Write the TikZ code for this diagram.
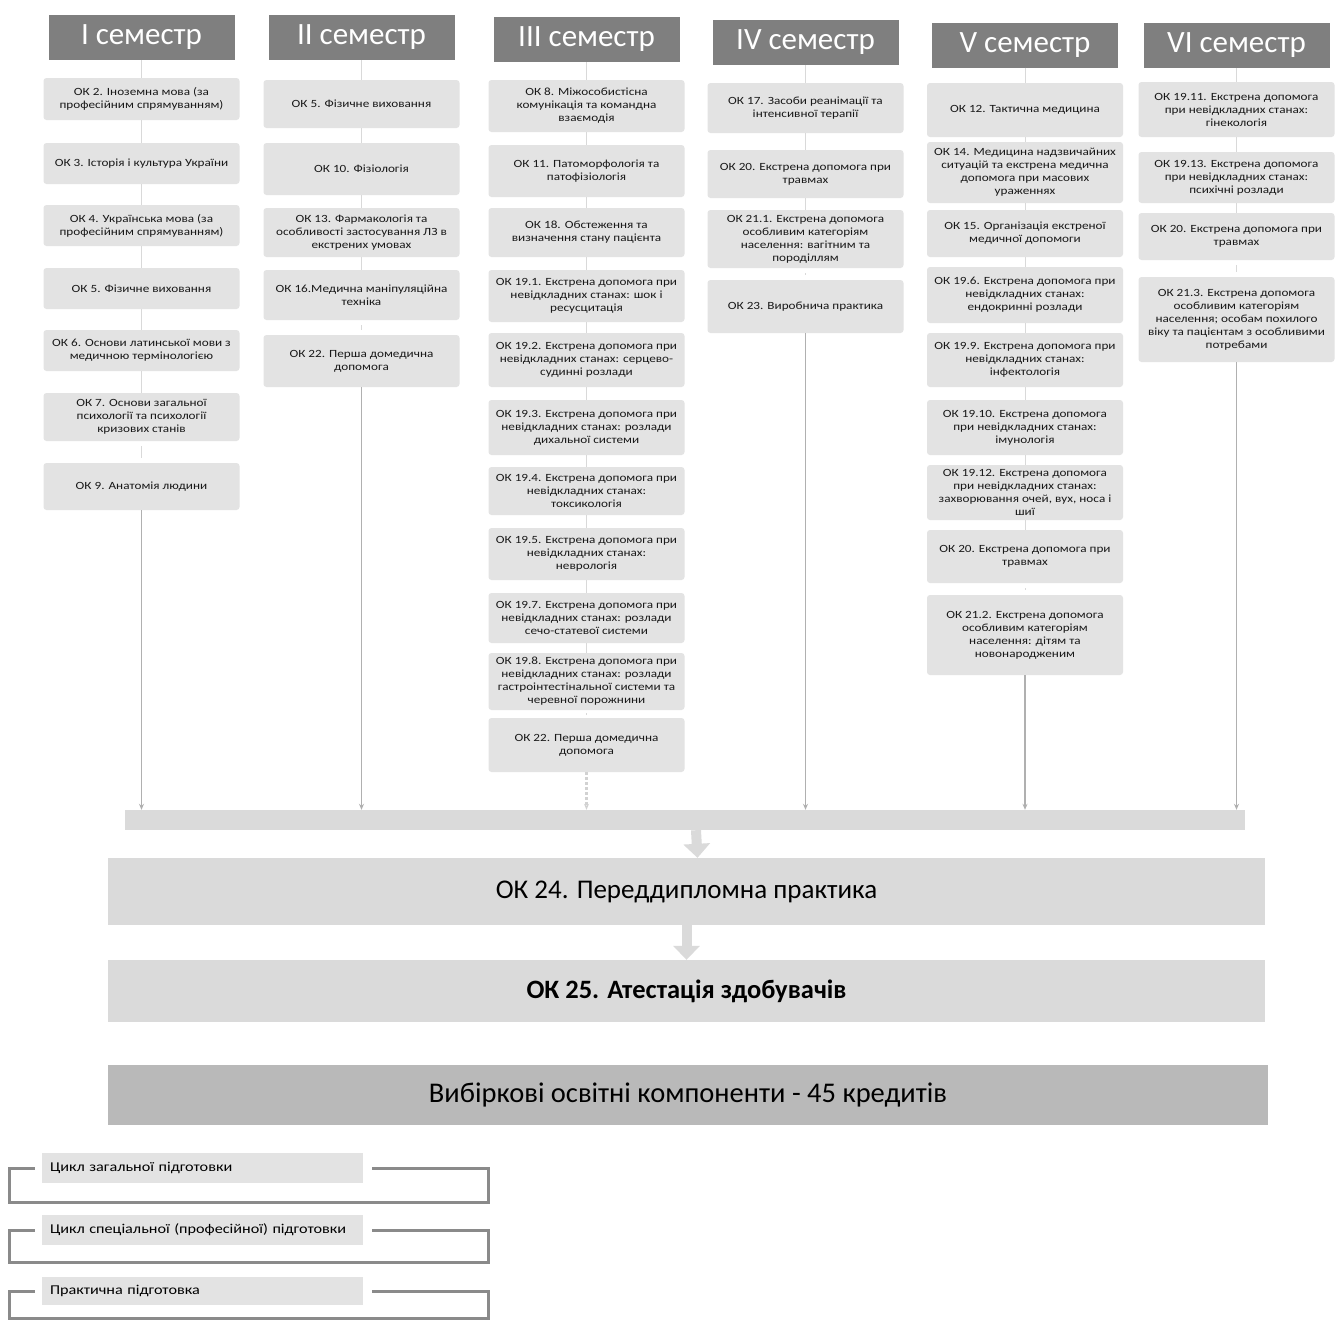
\documentclass[tikz,border=0pt]{standalone}
\usepackage{fontspec}
\setmainfont{Carlito}
\newfontfamily\boxfont[FakeStretch=1.2]{Carlito}
\usetikzlibrary{arrows.meta}

\definecolor{semgray}{HTML}{7F7F7F}
\definecolor{okgray}{HTML}{E3E3E3}
\definecolor{bargray}{HTML}{DADADA}
\definecolor{electgray}{HTML}{B9B9B9}
\definecolor{linegray}{HTML}{B0B0B0}
\definecolor{brgray}{HTML}{8A8A8A}

\begin{document}
\begin{tikzpicture}[
        x=1pt, y=-1pt,
        sem/.style={fill=semgray, text=white, minimum width=186pt, minimum height=45pt, inner sep=0pt, font=\fontsize{31}{31}\selectfont},
        ok/.style={fill=okgray, rounded corners=3pt, minimum width=196pt, inner sep=1pt, align=center, text=black!90, font=\boxfont\fontsize{11}{13}\selectfont},
        tick/.style={draw=gray!30, line width=0.6pt, shorten <=5pt, shorten >=5pt},
        feed/.style={draw=linegray, line width=1.2pt, -{Stealth[length=6pt, width=5pt]}},
        wide/.style={fill=bargray, minimum width=1157pt, inner sep=0pt, font=\fontsize{27}{32}\selectfont},
        bigarrow/.style={draw=bargray, line width=10pt, -{Triangle[length=14pt, width=26pt]}},
        legend/.style={fill=okgray, minimum width=321pt, minimum height=30pt, text width=305pt, align=left, font=\boxfont\fontsize{13.5}{15}\selectfont},
        bracket/.style={draw=brgray, line width=3pt}
    ]

        \fill[white] (0,0) rectangle (1339,1320);
        \useasboundingbox (0,0) rectangle (1339,1320);

        % Semester headers
        \node[sem] (h1) at (141.5,37.5) {I семестр};
        \node[sem] (h2) at (361.5,37.5) {II семестр};
        \node[sem] (h3) at (586.5,39.5) {III семестр};
        \node[sem] (h4) at (805.5,42.5) {IV семестр};
        \node[sem] (h5) at (1025,45) {V семестр};
        \node[sem] (h6) at (1236.5,45.5) {VI семестр};

        % I semester
        \node[ok, minimum height=42pt] (a1) at (141.5,99) {ОК 2. Іноземна мова (за\\професійним спрямуванням)};
        \node[ok, minimum height=41pt] (a2) at (141.5,163.5) {ОК 3. Історія і культура України};
        \node[ok, minimum height=41pt] (a3) at (141.5,225.5) {ОК 4. Українська мова (за\\професійним спрямуванням)};
        \node[ok, minimum height=41pt] (a4) at (141.5,288.5) {ОК 5. Фізичне виховання};
        \node[ok, minimum height=41pt] (a5) at (141.5,350.5) {ОК 6. Основи латинської мови з\\медичною термінологією};
        \node[ok, minimum height=48pt] (a6) at (141.5,417) {ОК 7. Основи загальної\\психології та психології\\кризових станів};
        \node[ok, minimum height=47pt] (a7) at (141.5,486.5) {ОК 9. Анатомія людини};

        % II semester
        \node[ok, minimum height=48pt] (b1) at (361.5,104) {ОК 5. Фізичне виховання};
        \node[ok, minimum height=52pt] (b2) at (361.5,169) {ОК 10. Фізіологія};
        \node[ok, minimum height=49pt] (b3) at (361.5,232.5) {ОК 13. Фармакологія та\\особливості застосування ЛЗ в\\екстрених умовах};
        \node[ok, minimum height=50pt] (b4) at (361.5,295) {ОК 16.Медична маніпуляційна\\техніка};
        \node[ok, minimum height=52pt] (b5) at (361.5,361) {ОК 22. Перша домедична\\допомога};

        % III semester
        \node[ok, minimum height=52pt] (c1) at (586.5,106) {ОК 8. Міжособистісна\\комунікація та командна\\взаємодія};
        \node[ok, minimum height=52pt] (c2) at (586.5,171) {ОК 11. Патоморфологія та\\патофізіологія};
        \node[ok, minimum height=49pt] (c3) at (586.5,232.5) {ОК 18. Обстеження та\\визначення стану пацієнта};
        \node[ok, minimum height=52pt] (c4) at (586.5,296) {ОК 19.1. Екстрена допомога при\\невідкладних станах: шок і\\ресусцитація};
        \node[ok, minimum height=54pt] (c5) at (586.5,360) {ОК 19.2. Екстрена допомога при\\невідкладних станах: серцево-\\судинні розлади};
        \node[ok, minimum height=55pt] (c6) at (586.5,427.5) {ОК 19.3. Екстрена допомога при\\невідкладних станах: розлади\\дихальної системи};
        \node[ok, minimum height=48pt] (c7) at (586.5,491) {ОК 19.4. Екстрена допомога при\\невідкладних станах:\\токсикологія};
        \node[ok, minimum height=52pt] (c8) at (586.5,554) {ОК 19.5. Екстрена допомога при\\невідкладних станах:\\неврологія};
        \node[ok, minimum height=50pt] (c9) at (586.5,618) {ОК 19.7. Екстрена допомога при\\невідкладних станах: розлади\\сечо-статевої системи};
        \node[ok, minimum height=57pt] (c10) at (586.5,681.5) {ОК 19.8. Екстрена допомога при\\невідкладних станах: розлади\\гастроінтестінальної системи та\\черевної порожнини};
        \node[ok, minimum height=54pt] (c11) at (586.5,745) {ОК 22. Перша домедична\\допомога};

        % IV semester
        \node[ok, minimum height=50pt] (d1) at (805.5,108) {ОК 17. Засоби реанімації та\\інтенсивної терапії};
        \node[ok, minimum height=48pt] (d2) at (805.5,174) {ОК 20. Екстрена допомога при\\травмах};
        \node[ok, minimum height=58pt] (d3) at (805.5,239) {ОК 21.1. Екстрена допомога\\особливим категоріям\\населення: вагітним та\\породіллям};
        \node[ok, minimum height=53pt] (d4) at (805.5,306.5) {ОК 23. Виробнича практика};

        % V semester
        \node[ok, minimum height=54pt] (e1) at (1025,110) {ОК 12. Тактична медицина};
        \node[ok, minimum height=61pt] (e2) at (1025,172.5) {ОК 14. Медицина надзвичайних\\ситуацій та екстрена медична\\допомога при масових\\ураженнях};
        \node[ok, minimum height=47pt] (e3) at (1025,233.5) {ОК 15. Організація екстреної\\медичної допомоги};
        \node[ok, minimum height=56pt] (e4) at (1025,295) {ОК 19.6. Екстрена допомога при\\невідкладних станах:\\ендокринні розлади};
        \node[ok, minimum height=54pt] (e5) at (1025,360) {ОК 19.9. Екстрена допомога при\\невідкладних станах:\\інфектологія};
        \node[ok, minimum height=55pt] (e6) at (1025,427.5) {ОК 19.10. Екстрена допомога\\при невідкладних станах:\\імунологія};
        \node[ok, minimum height=55pt] (e7) at (1025,492.5) {ОК 19.12. Екстрена допомога\\при невідкладних станах:\\захворювання очей, вух, носа і\\шиї};
        \node[ok, minimum height=53pt] (e8) at (1025,556.5) {ОК 20. Екстрена допомога при\\травмах};
        \node[ok, minimum height=80pt] (e9) at (1025,635) {ОК 21.2. Екстрена допомога\\особливим категоріям\\населення: дітям та\\новонародженим};

        % VI semester
        \node[ok, minimum height=55pt] (f1) at (1236.5,109.5) {ОК 19.11. Екстрена допомога\\при невідкладних станах:\\гінекологія};
        \node[ok, minimum height=51pt] (f2) at (1236.5,177.5) {ОК 19.13. Екстрена допомога\\при невідкладних станах:\\психічні розлади};
        \node[ok, minimum height=47pt] (f3) at (1236.5,236.5) {ОК 20. Екстрена допомога при\\травмах};
        \node[ok, minimum height=85pt] (f4) at (1236.5,319.5) {ОК 21.3. Екстрена допомога\\особливим категоріям\\населення; особам похилого\\віку та пацієнтам з особливими\\потребами};

        % Short links inside each column
        \draw[tick] (h1) -- (a1) (a1) -- (a2) (a2) -- (a3) (a3) -- (a4) (a4) -- (a5) (a5) -- (a6) (a6) -- (a7);
        \draw[tick] (h2) -- (b1) (b1) -- (b2) (b2) -- (b3) (b3) -- (b4) (b4) -- (b5);
        \draw[tick] (h3) -- (c1) (c1) -- (c2) (c2) -- (c3) (c3) -- (c4) (c4) -- (c5) (c5) -- (c6)
            (c6) -- (c7) (c7) -- (c8) (c8) -- (c9) (c9) -- (c10) (c10) -- (c11);
        \draw[tick] (h4) -- (d1) (d1) -- (d2) (d2) -- (d3) (d3) -- (d4);
        \draw[tick] (h5) -- (e1) (e1) -- (e2) (e2) -- (e3) (e3) -- (e4) (e4) -- (e5) (e5) -- (e6)
            (e6) -- (e7) (e7) -- (e8) (e8) -- (e9);
        \draw[tick] (h6) -- (f1) (f1) -- (f2) (f2) -- (f3) (f3) -- (f4);

        % Collecting bar and the final components
        \node[fill=bargray, minimum width=1120pt, minimum height=20pt, inner sep=0pt] (bar) at (685,820) {};
        \node[wide, minimum height=67pt] (p24) at (686.5,891.5) {ОК 24. Переддипломна практика};
        \node[wide, minimum height=62pt, font=\bfseries\fontsize{26.5}{32}\selectfont] (p25) at (686.5,991) {ОК 25. Атестація здобувачів};
        \node[wide, fill=electgray, minimum width=1160pt, minimum height=60pt, font=\fontsize{28.5}{32}\selectfont] (elect) at (688,1095) {Вибіркові освітні компоненти - 45 кредитів};

        % Columns feed into the bar
        \draw[feed] (a7) -- (a7 |- bar.north);
        \draw[feed] (b5) -- (b5 |- bar.north);
        \draw[feed, draw=gray!35, line width=3pt, dotted] (c11) -- (c11 |- bar.north);
        \draw[feed] (d4) -- (d4 |- bar.north);
        \draw[feed] (e9) -- (e9 |- bar.north);
        \draw[feed] (f4) -- (f4 |- bar.north);

        \draw[bigarrow] ([xshift=11pt]bar.south) -- ([xshift=11pt]p24.north);
        \draw[bigarrow] (p24) -- (p25);

        % Legend
        \node[legend] (gen) at (202.5,1168) {Цикл загальної підготовки};
        \node[legend] (spec) at (202.5,1230) {Цикл спеціальної (професійної) підготовки};
        \node[legend, minimum height=28pt] (prac) at (202.5,1291) {Практична підготовка};

        \draw[bracket] ([xshift=-7pt]gen.west) -- ++(-25,0) -- ++(0,34) -| ([xshift=125pt]gen.east) -- ([xshift=9pt]gen.east);
        \draw[bracket] ([xshift=-7pt]spec.west) -- ++(-25,0) -- ++(0,32) -| ([xshift=125pt]spec.east) -- ([xshift=9pt]spec.east);
        \draw[bracket] ([xshift=-7pt]prac.west) -- ++(-25,0) -- ++(0,27) -| ([xshift=125pt]prac.east) -- ([xshift=9pt]prac.east);

    \end{tikzpicture}
\end{document}
